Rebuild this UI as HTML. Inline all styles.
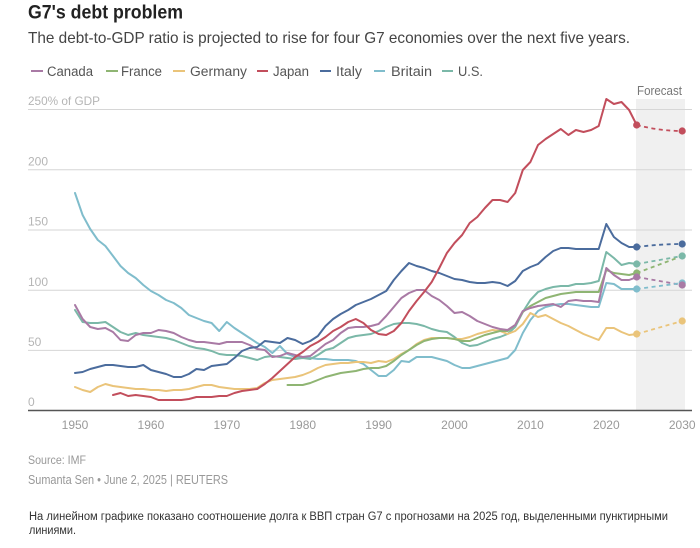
<!DOCTYPE html>
<html><head><meta charset="utf-8"><style>
html,body{margin:0;padding:0;background:#fff;}
svg{display:block;}
text{font-family:"Liberation Sans","DejaVu Sans",sans-serif;}
.ru{font-family:"Liberation Sans","Noto Sans CJK SC",sans-serif;}
</style></head><body>
<svg width="700" height="548" viewBox="0 0 700 548" xmlns="http://www.w3.org/2000/svg">
<rect width="700" height="548" fill="#fff"/>
<!-- Title -->
<text x="28" y="18.5" font-size="19" font-weight="bold" fill="#222" textLength="155" lengthAdjust="spacingAndGlyphs">G7's debt problem</text>
<text x="28" y="43" font-size="16" fill="#444" textLength="602" lengthAdjust="spacingAndGlyphs">The debt-to-GDP ratio is projected to rise for four G7 economies over the next five years.</text>
<!-- Legend -->
<g stroke-width="2">
<line x1="31" y1="71" x2="43" y2="71" stroke="#a97aa5"/>
<line x1="106" y1="71" x2="118" y2="71" stroke="#8fb573"/>
<line x1="173" y1="71" x2="185" y2="71" stroke="#eac47a"/>
<line x1="257" y1="71" x2="268" y2="71" stroke="#c24e5c"/>
<line x1="320" y1="71" x2="331" y2="71" stroke="#4b6c9d"/>
<line x1="374" y1="71" x2="385" y2="71" stroke="#80bdcc"/>
<line x1="442" y1="71" x2="453" y2="71" stroke="#7bb8a8"/>
</g>
<g font-size="13.5" fill="#555">
<text x="47" y="76" textLength="46" lengthAdjust="spacingAndGlyphs">Canada</text>
<text x="121" y="76" textLength="41" lengthAdjust="spacingAndGlyphs">France</text>
<text x="190" y="76" textLength="57" lengthAdjust="spacingAndGlyphs">Germany</text>
<text x="273" y="76" textLength="36" lengthAdjust="spacingAndGlyphs">Japan</text>
<text x="336" y="76" textLength="26" lengthAdjust="spacingAndGlyphs">Italy</text>
<text x="391" y="76" textLength="41" lengthAdjust="spacingAndGlyphs">Britain</text>
<text x="458" y="76" textLength="25" lengthAdjust="spacingAndGlyphs">U.S.</text>
</g>
<!-- Forecast band -->
<rect x="636" y="99" width="49" height="311.5" fill="#f0f0f0"/>
<text x="637" y="95" font-size="12.5" fill="#777" textLength="45" lengthAdjust="spacingAndGlyphs">Forecast</text>
<!-- Gridlines -->
<g stroke="#d6d6d6" stroke-width="1">
<line x1="28" y1="109.5" x2="692" y2="109.5"/>
<line x1="28" y1="169.8" x2="692" y2="169.8"/>
<line x1="28" y1="230" x2="692" y2="230"/>
<line x1="28" y1="290.2" x2="692" y2="290.2"/>
<line x1="28" y1="350.4" x2="692" y2="350.4"/>
</g>
<g font-size="12" fill="#b5b5b5">
<text x="28" y="105" textLength="72" lengthAdjust="spacingAndGlyphs">250% of GDP</text>
<text x="28" y="165.5">200</text>
<text x="28" y="225.5">150</text>
<text x="28" y="286">100</text>
<text x="28" y="346">50</text>
<text x="28" y="406">0</text>
</g>
<!-- Series -->
<g fill="none" stroke-width="2" stroke-linejoin="round" stroke-linecap="round">
<polyline stroke="#80bdcc" points="75,193 82.6,215 90.2,229 97.8,240 105.4,246 113,256 120.5,266 128.1,273 135.7,278 143.3,285 150.9,291 158.5,295 166.1,300 173.7,303 181.3,308 188.9,315 196.4,318 204,321 211.6,323 219.2,331 226.8,322 234.4,328 242,333 249.6,338 257.2,343 264.8,347 272.3,353 279.9,346 287.5,354 295.1,357 302.7,358 310.3,358 317.9,359 325.5,359 333.1,360 340.7,360 348.2,360 355.8,361 363.4,364 371,370 378.6,376 386.2,376 393.8,370 401.4,361 409,362 416.6,357 424.1,357 431.7,357 439.3,359 446.9,361 454.5,365 462.1,368 469.7,368 477.3,366 484.9,364 492.5,362 500,360 507.6,358 515.2,350 522.8,333 530.4,320 538,311 545.6,307 553.2,305 560.8,304 568.4,304 575.9,305 583.5,306 591.1,307 598.7,307 606.3,283 613.9,284 621.5,289 629.1,289 636.7,289"/>
<polyline stroke="#7bb8a8" points="75,310 82.6,322 90.2,323 97.8,323 105.4,322 113,327 120.5,332 128.1,335 135.7,333 143.3,335 150.9,336 158.5,337 166.1,338 173.7,340 181.3,343 188.9,346 196.4,348 204,349 211.6,351 219.2,354 226.8,355 234.4,355 242,356 249.6,358 257.2,360 264.8,357 272.3,356 279.9,357 287.5,358 295.1,359 302.7,358 310.3,359 317.9,355 325.5,350 333.1,348 340.7,343 348.2,338 355.8,336 363.4,335 371,334 378.6,331 386.2,327 393.8,324 401.4,323 409,323 416.6,324 424.1,326 431.7,329 439.3,331 446.9,332 454.5,337 462.1,343 469.7,346 477.3,345 484.9,342 492.5,339 500,337 507.6,334 515.2,327 522.8,312 530.4,300 538,292 545.6,289 553.2,287 560.8,286 568.4,286 575.9,284 583.5,284 591.1,283 598.7,281 606.3,252 613.9,258 621.5,265 629.1,263 636.7,264"/>
<polyline stroke="#eac47a" points="75,387 82.6,390 90.2,392 97.8,387 105.4,384 113,386 120.5,387 128.1,388 135.7,389 143.3,389 150.9,390 158.5,390 166.1,391 173.7,390 181.3,390 188.9,389 196.4,387 204,385 211.6,385 219.2,387 226.8,388 234.4,389 242,389 249.6,389 257.2,388 264.8,383 272.3,380 279.9,379 287.5,378 295.1,377 302.7,375 310.3,372 317.9,368 325.5,365 333.1,364 340.7,363 348.2,363 355.8,362 363.4,362 371,363 378.6,361 386.2,362 393.8,359 401.4,354 409,350 416.6,344 424.1,340 431.7,338 439.3,338 446.9,338 454.5,339 462.1,339 469.7,337 477.3,334 484.9,332 492.5,330 500,331 507.6,334 515.2,331 522.8,324 530.4,313 538,317 545.6,315 553.2,319 560.8,323 568.4,326 575.9,330 583.5,334 591.1,337 598.7,340 606.3,328 613.9,328 621.5,332 629.1,335 636.7,334"/>
<polyline stroke="#8fb573" points="287.5,385 295.1,385 302.7,385 310.3,383 317.9,380 325.5,377 333.1,375 340.7,373 348.2,372 355.8,371 363.4,369 371,368 378.6,368 386.2,366 393.8,361 401.4,355 409,350 416.6,345 424.1,341 431.7,339 439.3,338 446.9,338 454.5,339 462.1,341 469.7,341 477.3,338 484.9,335 492.5,333 500,331 507.6,331 515.2,325 522.8,312 530.4,306 538,302 545.6,298 553.2,296 560.8,294 568.4,293 575.9,292 583.5,292 591.1,292 598.7,292 606.3,270 613.9,273 621.5,274 629.1,275 636.7,273"/>
<polyline stroke="#a97aa5" points="75,305 82.6,319 90.2,327 97.8,329 105.4,328 113,332 120.5,340 128.1,341 135.7,335 143.3,333 150.9,333 158.5,330 166.1,331 173.7,333 181.3,337 188.9,340 196.4,342 204,342 211.6,343 219.2,344 226.8,342 234.4,342 242,342 249.6,345 257.2,349 264.8,350 272.3,357 279.9,356 287.5,353 295.1,355 302.7,357 310.3,356 317.9,350 325.5,344 333.1,340 340.7,333 348.2,328 355.8,327 363.4,327 371,326 378.6,324 386.2,316 393.8,307 401.4,298 409,293 416.6,290 424.1,290 431.7,296 439.3,300 446.9,306 454.5,313 462.1,312 469.7,316 477.3,321 484.9,324 492.5,327 500,329 507.6,330 515.2,325 522.8,311 530.4,308 538,306 545.6,305 553.2,304 560.8,307 568.4,301 575.9,300 583.5,301 591.1,301 598.7,302 606.3,268 613.9,275 621.5,280 629.1,280 636.7,277"/>
<polyline stroke="#4b6c9d" points="75,373 82.6,372 90.2,369 97.8,367 105.4,365 113,365 120.5,366 128.1,367 135.7,367 143.3,365 150.9,370 158.5,372 166.1,374 173.7,377 181.3,377 188.9,374 196.4,369 204,370 211.6,366 219.2,365 226.8,364 234.4,358 242,351 249.6,348 257.2,347 264.8,341 272.3,342 279.9,343 287.5,338 295.1,340 302.7,344 310.3,341 317.9,336 325.5,326 333.1,319 340.7,314 348.2,310 355.8,305 363.4,302 371,299 378.6,295 386.2,291 393.8,280 401.4,271 409,263 416.6,266 424.1,268 431.7,271 439.3,273 446.9,276 454.5,279 462.1,280 469.7,282 477.3,283 484.9,283 492.5,282 500,283 507.6,286 515.2,281 522.8,271 530.4,267 538,264 545.6,257 553.2,251 560.8,248 568.4,248 575.9,249 583.5,249 591.1,249 598.7,249 606.3,224 613.9,237 621.5,243 629.1,247 636.7,247"/>
<polyline stroke="#c24e5c" points="113,395 120.5,393 128.1,396 135.7,395 143.3,396 150.9,397 158.5,400 166.1,400 173.7,400 181.3,400 188.9,399 196.4,397 204,397 211.6,397 219.2,396 226.8,396 234.4,393 242,391 249.6,390 257.2,389 264.8,384 272.3,378 279.9,371 287.5,364 295.1,357 302.7,352 310.3,346 317.9,342 325.5,337 333.1,331 340.7,327 348.2,322 355.8,319 363.4,323 371,330 378.6,334 386.2,335 393.8,331 401.4,323 409,311 416.6,301 424.1,292 431.7,282 439.3,268 446.9,253 454.5,243 462.1,235 469.7,223 477.3,217 484.9,208 492.5,200 500,200 507.6,202 515.2,193 522.8,170 530.4,162 538,145 545.6,139 553.2,134 560.8,129 568.4,135 575.9,130 583.5,132 591.1,130 598.7,126 606.3,99 613.9,104 621.5,102 629.1,110 636.7,125"/>
</g>
<!-- Forecast dashed -->
<g fill="none" stroke-width="1.8" stroke-dasharray="4 3.5">
<path stroke="#c24e5c" d="M636.7,125 Q660,131 682.2,131"/>
<path stroke="#4b6c9d" d="M636.7,247 Q660,244 682.2,244"/>
<line stroke="#7bb8a8" x1="636.7" y1="264" x2="682.2" y2="256"/>
<line stroke="#8fb573" x1="636.7" y1="273" x2="682.2" y2="256"/>
<line stroke="#a97aa5" x1="636.7" y1="277" x2="682.2" y2="285"/>
<line stroke="#80bdcc" x1="636.7" y1="289" x2="682.2" y2="283"/>
<line stroke="#eac47a" x1="636.7" y1="334" x2="682.2" y2="321"/>
</g>
<g>
<circle cx="636.7" cy="125" r="3.6" fill="#c24e5c"/><circle cx="682.2" cy="131" r="3.6" fill="#c24e5c"/>
<circle cx="636.7" cy="247" r="3.6" fill="#4b6c9d"/><circle cx="682.2" cy="244" r="3.6" fill="#4b6c9d"/>
<circle cx="636.7" cy="264" r="3.6" fill="#7bb8a8"/><circle cx="682.2" cy="256" r="3.6" fill="#7bb8a8"/>
<circle cx="636.7" cy="273" r="3.6" fill="#8fb573"/>
<circle cx="636.7" cy="277" r="3.6" fill="#a97aa5"/>
<circle cx="682.2" cy="283" r="3.6" fill="#80bdcc"/><circle cx="682.2" cy="285" r="3.6" fill="#a97aa5"/>
<circle cx="636.7" cy="289" r="3.6" fill="#80bdcc"/>
<circle cx="636.7" cy="334" r="3.6" fill="#eac47a"/><circle cx="682.2" cy="321" r="3.6" fill="#eac47a"/>
</g>
<!-- Axis -->
<line x1="28" y1="410.5" x2="692" y2="410.5" stroke="#555" stroke-width="1.5"/>
<g font-size="12" fill="#999" text-anchor="middle">
<text x="75" y="429">1950</text>
<text x="150.9" y="429">1960</text>
<text x="226.8" y="429">1970</text>
<text x="302.7" y="429">1980</text>
<text x="378.6" y="429">1990</text>
<text x="454.5" y="429">2000</text>
<text x="530.4" y="429">2010</text>
<text x="606.3" y="429">2020</text>
<text x="682.2" y="429">2030</text>
</g>
<!-- Footer -->
<text x="28" y="464" font-size="12" fill="#999" textLength="58" lengthAdjust="spacingAndGlyphs">Source: IMF</text>
<text x="28" y="484" font-size="12.5" fill="#999" textLength="200" lengthAdjust="spacingAndGlyphs">Sumanta Sen • June 2, 2025 | REUTERS</text>
<text class="ru" x="29" y="520" font-size="11.5" fill="#333" textLength="639" lengthAdjust="spacingAndGlyphs">На линейном графике показано соотношение долга к ВВП стран G7 с прогнозами на 2025 год, выделенными пунктирными</text>
<text class="ru" x="29" y="534" font-size="11.5" fill="#333" textLength="47" lengthAdjust="spacingAndGlyphs">линиями.</text>
</svg>
</body></html>
